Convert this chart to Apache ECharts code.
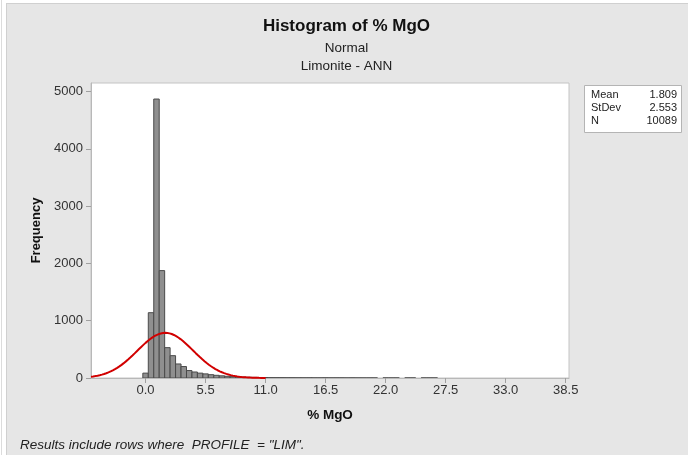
<!DOCTYPE html>
<html>
<head>
<meta charset="utf-8">
<script src="https://cdn.jsdelivr.net/npm/echarts@6/dist/echarts.min.js"></script>
<style>
  html, body { margin: 0; padding: 0; background: #ffffff; }
  #frame { position: absolute; left: 1px; top: 0; width: 1px; height: 455px; background: #dcdcdc; }
  #panel { position: absolute; left: 6px; top: 3px; width: 682px; height: 452px; background: #e6e6e6; border-left: 1px solid #d0d0d0; border-top: 1px solid #d0d0d0; box-sizing: border-box; }
  #chart { position: absolute; left: 0; top: 0; width: 693px; height: 455px; }
</style>
</head>
<body>
<div id="frame"></div>
<div id="panel"></div>
<div id="chart"></div>
<script>
// ---- data ----
const binWidth = 0.5;
const binCenters = [0, 0.5, 1.0, 1.5, 2.0, 2.5, 3.0, 3.5, 4.0, 4.5, 5.0, 5.5, 6.0, 6.5, 7.0, 7.5, 8.0, 8.5, 9.0, 9.5, 10.0, 10.5, 11.0,
  11.5, 12.0, 12.5, 13.0, 13.5, 14.0, 14.5, 15.0, 15.5, 16.0, 16.5, 17.0, 17.5, 18.0, 18.5, 19.0, 19.5, 20.0, 20.5, 21.0, 22.0, 22.5, 23.0, 24.0, 24.5, 25.5, 26.0, 26.5];
const counts = [85, 1140, 4870, 1875, 530, 390, 245, 200, 130, 105, 85, 72, 58, 47, 38, 30, 24, 20, 16, 13, 11, 9, 8,
  6, 5, 5, 4, 4, 3, 3, 3, 2, 2, 3, 2, 2, 2, 1, 2, 1, 1, 1, 1, 1, 1, 1, 1, 1, 1, 1, 1];
const yTicks = [0, 1000, 2000, 3000, 4000, 5000];
const xTicks = [0.0, 5.5, 11.0, 16.5, 22.0, 27.5, 33.0, 38.5];
const statLabels = ['Mean', 'StDev', 'N'];
const statValues = ['1.809', '2.553', '10089'];
const mean = 1.809, stdev = 2.553, N = 10089;
const xMin = -5, xMax = 38.8, yMax = 5150;
const curveEnd = 11;

// fitted normal curve from the displayed statistics
const curve = [];
for (let i = 0; i <= (curveEnd - xMin) * 10; i++) {
  const x = xMin + i * 0.1;
  const z = (x - mean) / stdev;
  curve.push([x, N * binWidth * Math.exp(-0.5 * z * z) / (stdev * Math.sqrt(2 * Math.PI))]);
}
const histData = binCenters.map((c, i) => [c, counts[i]]);

const FONT = '"Liberation Sans", Arial, sans-serif';
const chart = echarts.init(document.getElementById('chart'), null, { renderer: 'canvas' });

const statTexts = [];
statLabels.forEach((l, i) => {
  statTexts.push({ type: 'text', left: 591, top: 89 + i * 13, z: 20,
    style: { text: l, font: '11px ' + FONT, fill: '#222' } });
  statTexts.push({ type: 'text', right: 693 - 677, top: 89 + i * 13, z: 20,
    style: { text: statValues[i], font: '11px ' + FONT, fill: '#222', textAlign: 'right' } });
});

chart.setOption({
  backgroundColor: 'transparent',
  animation: false,
  title: [
    { text: 'Histogram of % MgO', left: 'center', top: 13,
      textStyle: { fontFamily: FONT, fontSize: 17, fontWeight: 'bold', color: '#111' } },
    { text: 'Normal', left: 'center', top: 36,
      textStyle: { fontFamily: FONT, fontSize: 13.5, fontWeight: 'normal', color: '#222' } },
    { text: 'Limonite - ANN', left: 'center', top: 54,
      textStyle: { fontFamily: FONT, fontSize: 13.5, fontWeight: 'normal', color: '#222' } },
    { text: 'Results include rows where  PROFILE  = "LIM".', left: 15, top: 433,
      textStyle: { fontFamily: FONT, fontSize: 13.5, fontWeight: 'normal', fontStyle: 'italic', color: '#222' } }
  ],
  grid: { left: 91, right: 124, top: 83, bottom: 77, show: true, backgroundColor: '#ffffff', borderColor: '#c4c4c4', borderWidth: 1 },
  xAxis: {
    type: 'value', min: xMin, max: xMax,
    name: '% MgO', nameLocation: 'middle', nameGap: 30,
    nameTextStyle: { fontFamily: FONT, fontSize: 13.5, fontWeight: 'bold', color: '#111' },
    axisLine: { show: true, onZero: false, lineStyle: { color: '#b8b8b8' } },
    axisTick: { show: true, length: 5, lineStyle: { color: '#a0a0a0' }, customValues: xTicks },
    axisLabel: { fontFamily: FONT, fontSize: 13, color: '#333', margin: 6, customValues: xTicks,
      formatter: v => v.toFixed(1) },
    splitLine: { show: false }
  },
  yAxis: {
    type: 'value', min: 0, max: yMax, interval: 1000,
    name: 'Frequency', nameLocation: 'middle', nameGap: 47, nameRotate: 90,
    nameTextStyle: { fontFamily: FONT, fontSize: 13, fontWeight: 'bold', color: '#111' },
    axisLine: { show: true, onZero: false, lineStyle: { color: '#b8b8b8' } },
    axisTick: { show: true, length: 5, lineStyle: { color: '#a0a0a0' }, customValues: yTicks },
    axisLabel: { fontFamily: FONT, fontSize: 13, color: '#333', margin: 8, customValues: yTicks,
      formatter: v => String(v) },
    splitLine: { show: false }
  },
  series: [
    {
      type: 'custom', data: histData, encode: { x: 0, y: 1 }, clip: true, z: 2,
      renderItem: function (params, api) {
        const x = api.value(0), y = api.value(1);
        const p0 = api.coord([x - binWidth / 2, y]);
        const p1 = api.coord([x + binWidth / 2, 0]);
        return { type: 'rect',
          shape: { x: p0[0], y: p0[1], width: p1[0] - p0[0], height: p1[1] - p0[1] },
          style: { fill: '#8f8f8f', stroke: '#4a4a4a', lineWidth: 1 } };
      }
    },
    {
      type: 'line', data: curve, showSymbol: false, smooth: false, z: 5, clip: true,
      lineStyle: { color: '#d10000', width: 2 }
    }
  ],
  graphic: [
    { type: 'rect', left: 584, top: 85, z: 10,
      shape: { width: 97, height: 47 }, style: { fill: '#ffffff', stroke: '#b4b4b4', lineWidth: 1 } },
    ...statTexts
  ]
});
</script>
</body>
</html>
